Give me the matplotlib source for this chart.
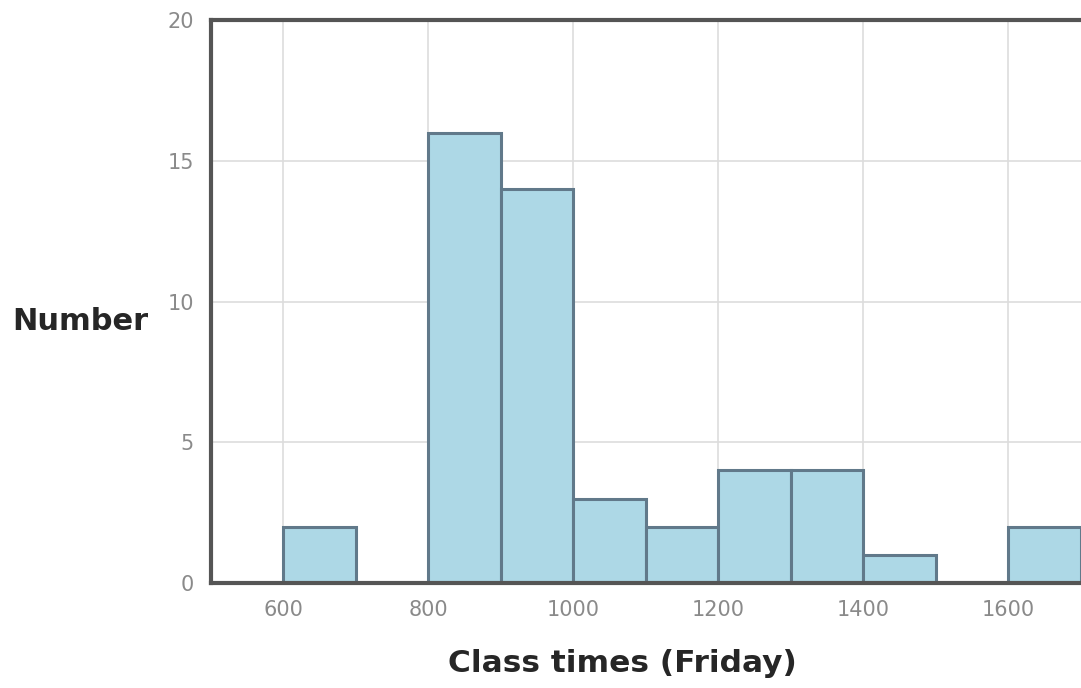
import numpy as np
import matplotlib.pyplot as plt

# histogram of class start times (Friday)
bin_edges = [500, 600, 700, 800, 900, 1000, 1100, 1200, 1300, 1400, 1500, 1600, 1700]
counts = [0, 2, 0, 16, 14, 3, 2, 4, 4, 1, 0, 2]
x_ticks = [600, 800, 1000, 1200, 1400, 1600]
y_ticks = [0, 5, 10, 15, 20]


def main():
    plt.rcParams['font.family'] = ['DejaVu Sans']
    fig = plt.figure(figsize=(10.81, 6.88), dpi=100)
    # axes runs past the right edge like the cropped original
    ax = fig.add_axes([210.5 / 1081, 105 / 688, 942.5 / 1081, 563 / 688])

    lefts = np.array(bin_edges[:-1])
    widths = np.diff(bin_edges)
    ax.bar(lefts, counts, width=widths, align='edge', color='#add8e6',
           edgecolor='#61798a', linewidth=2.2, zorder=3)

    ax.set_xlim(500, 1800)
    ax.set_ylim(0, 20)
    ax.set_xticks(x_ticks)
    ax.set_yticks(y_ticks)
    ax.grid(True, color='#dddddd', linewidth=1.2, zorder=0)
    ax.tick_params(length=0, labelsize=15, labelcolor='#8a8a8a', pad=12)

    for side in ['left', 'top', 'bottom']:
        ax.spines[side].set_color('#555555')
        ax.spines[side].set_linewidth(3)
        ax.spines[side].set_zorder(4)
    ax.spines['right'].set_visible(False)

    fig.text(12 / 1081, 1 - 322 / 688, 'Number', fontsize=22, fontweight='bold',
             color='#262626', ha='left', va='center')
    fig.text(622 / 1081, 1 - 663 / 688, 'Class times (Friday)', fontsize=22.5,
             fontweight='bold', color='#262626', ha='center', va='center')

    fig.savefig('out.png', dpi=100)


if __name__ == '__main__':
    main()
